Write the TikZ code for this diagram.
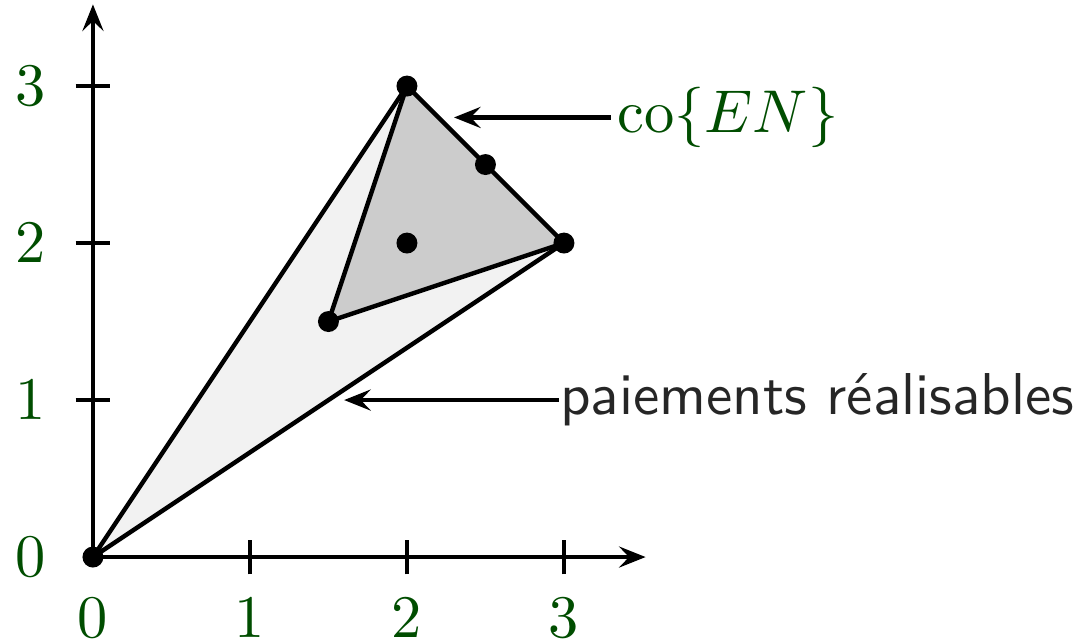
\documentclass[tikz,border=0pt]{standalone}
\usetikzlibrary{arrows.meta}
\definecolor{lblgreen}{RGB}{0,77,0}
\begin{document}
\begin{tikzpicture}[
  tip/.tip={Stealth[length=4.8pt,width=3.8pt,inset=1.8pt]},
  axis/.style={thick,-tip},
  tick/.style={thick},
  lbl/.style={text=lblgreen,font=\fontsize{10.95}{13}\selectfont},
  edge/.style={thick},
  pt/.style={circle,fill=black,inner sep=0pt,minimum size=3.8pt},
  callout/.style={thick,tip-},
]
\useasboundingbox (-0.592,-0.548) rectangle (6.274,3.548);
\coordinate (O) at (0,0);
\coordinate (X) at (3.52,0);
\coordinate (Y) at (0,3.52);
\coordinate (A) at (2,3);
\coordinate (B) at (3,2);
\coordinate (C) at (1.5,1.5);
\fill[black!5] (O) -- (A) -- (B) -- cycle;
\fill[black!20] (A) -- (B) -- (C) -- cycle;
\draw[axis] (O) -- (X);
\draw[axis] (O) -- (Y);
\foreach \i in {1,2,3} {
  \draw[tick] (\i,-0.11) -- (\i,0.11);
  \draw[tick] (-0.11,\i) -- (0.11,\i);
  \node[lbl] (xl\i) at (\i,-0.39) {$\i$};
  \node[lbl] (yl\i) at (-0.4,\i) {$\i$};
}
\node[lbl] (xl0) at (0,-0.39) {$0$};
\node[lbl] (yl0) at (-0.4,0) {$0$};
\draw[edge,line join=round] (O) -- (A) -- (B) -- cycle;
\draw[edge,line join=round] (A) -- (C) -- (B);
\foreach \n/\p in {pO/{(0,0)},pA/{(2,3)},pB/{(3,2)},pC/{(1.5,1.5)},pD/{(2.5,2.5)},pE/{(2,2)}}
  \node[pt] (\n) at \p {};
\coordinate (t1) at (2.3,2.8);
\coordinate (t2) at (1.6,1.0);
\node[lbl,anchor=west,inner sep=1pt,font=\fontsize{10.8}{13}\selectfont] (co) at (3.3,2.8) {$\mathrm{co}\{EN\}$};
\node[anchor=west,inner sep=0pt,text=black!85,font=\fontsize{10.7}{13}\selectfont\sffamily] (pr) at (2.97,1.0) {paiements réalisables};
\draw[callout] (t1) -- (co.west);
\draw[callout] (t2) -- (pr.west);
\end{tikzpicture}
\end{document}
